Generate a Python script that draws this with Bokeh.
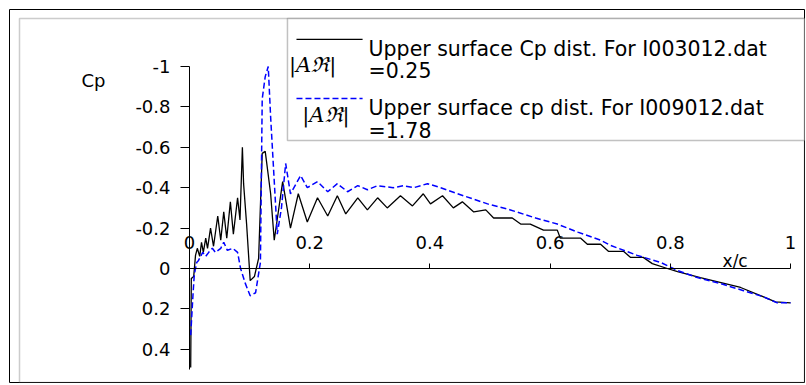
from bokeh.plotting import figure
from bokeh.models import Range1d, LinearAxis, FixedTicker, BoxAnnotation
from bokeh.core.properties import value
from bokeh.embed import file_html
from bokeh.resources import INLINE

# ---- data ----
x_black = [0.002, 0.003, 0.007, 0.010, 0.013, 0.017, 0.020, 0.023, 0.027, 0.030,
           0.035, 0.040, 0.047, 0.052, 0.057, 0.062, 0.068, 0.073, 0.080, 0.084,
           0.088, 0.090, 0.095, 0.101, 0.108, 0.115, 0.121, 0.126, 0.135, 0.141,
           0.155, 0.168, 0.181, 0.196, 0.213, 0.230, 0.246, 0.260, 0.280, 0.296,
           0.313, 0.329, 0.351, 0.371, 0.389, 0.401, 0.421, 0.439, 0.454, 0.473,
           0.493, 0.506, 0.537, 0.551, 0.567, 0.589, 0.612, 0.617, 0.651, 0.662,
           0.684, 0.697, 0.722, 0.734, 0.755, 0.770, 0.795, 0.812, 0.850, 0.917,
           0.950, 0.975, 1.000]
cp_black = [0.49, 0.05, 0.04, -0.065, -0.10, -0.06, -0.13, -0.08, -0.15, -0.10,
            -0.20, -0.11, -0.26, -0.14, -0.28, -0.15, -0.33, -0.17, -0.35, -0.24,
            -0.60, -0.42, -0.22, 0.06, 0.04, -0.05, -0.57, -0.58, -0.37, -0.14,
            -0.43, -0.20, -0.37, -0.23, -0.35, -0.26, -0.36, -0.27, -0.35, -0.29,
            -0.35, -0.30, -0.36, -0.31, -0.37, -0.32, -0.36, -0.30, -0.33, -0.28,
            -0.29, -0.25, -0.25, -0.22, -0.22, -0.19, -0.19, -0.15, -0.15, -0.12,
            -0.12, -0.085, -0.085, -0.055, -0.055, -0.024, 0.0, 0.015, 0.045, 0.094,
            0.134, 0.165, 0.17]

x_blue = [0.002, 0.006, 0.008, 0.012, 0.015, 0.022, 0.027, 0.032, 0.038, 0.043,
          0.052, 0.057, 0.063, 0.072, 0.080, 0.085, 0.093, 0.101, 0.110, 0.115,
          0.118, 0.121, 0.126, 0.131, 0.135, 0.146, 0.153, 0.160, 0.168, 0.185,
          0.196, 0.213, 0.230, 0.246, 0.263, 0.280, 0.296, 0.313, 0.339, 0.356,
          0.373, 0.396, 0.418, 0.456, 0.496, 0.534, 0.576, 0.612, 0.646, 0.684,
          0.700, 0.745, 0.784, 0.812, 0.845, 0.884, 0.922, 0.955, 0.978, 1.000]
cp_blue = [0.33, 0.12, 0.03, -0.03, -0.04, -0.08, -0.06, -0.08, -0.10, -0.08,
           -0.10, -0.13, -0.09, -0.10, -0.08, 0.00, 0.075, 0.135, 0.12, 0.025,
           -0.03, -0.84, -0.95, -1.00, -0.75, -0.17, -0.30, -0.52, -0.37, -0.46,
           -0.40, -0.43, -0.38, -0.42, -0.38, -0.41, -0.39, -0.41, -0.40, -0.41,
           -0.40, -0.42, -0.40, -0.36, -0.32, -0.29, -0.25, -0.22, -0.18, -0.14,
           -0.115, -0.065, -0.03, 0.01, 0.045, 0.075, 0.11, 0.14, 0.17, 0.17]

x_ticks = [0, 0.2, 0.4, 0.6, 0.8, 1]
x_tick_labels = ["0", "0.2", "0.4", "0.6", "0.8", "1"]
y_ticks = [-1, -0.8, -0.6, -0.4, -0.2, 0, 0.2, 0.4]
y_tick_labels = ["-1", "-0.8", "-0.6", "-0.4", "-0.2", "0", "0.2", "0.4"]

legend_lines = ["Upper surface Cp dist. For I003012.dat", "=0.25",
                "Upper surface cp dist. For I009012.dat", "=1.78"]
ar_symbol = "|Aℜ|"

FONT = "DejaVu Sans"

# frame = outer chart border (canvas 9..805 x 9..383)
p = figure(width=805, height=383, output_backend="svg", toolbar_location=None,
           x_axis_type=None, y_axis_type=None, title=None,
           x_range=Range1d(-0.29950, 1.02496), y_range=Range1d(0.56931, -1.28218),
           min_border_left=9, min_border_right=0, min_border_top=9, min_border_bottom=0)
p.outline_line_color = "black"
p.outline_line_width = 1
p.background_fill_color = "white"
p.border_fill_color = "white"

# inner plot-area border
p.add_layout(BoxAnnotation(left=-0.28286, right=1.02329, top=-1.23762, bottom=0.56436,
                           fill_alpha=0, line_color="#555555", line_width=1.5,
                           level="underlay"))

# axes crossing at the origin
xaxis = LinearAxis(fixed_location=0, bounds=(0, 1), ticker=FixedTicker(ticks=x_ticks),
                   major_label_overrides={t: l for t, l in zip(x_ticks, x_tick_labels)})
xaxis.major_tick_in = 0
xaxis.major_tick_out = 5
xaxis.minor_tick_in = 0
xaxis.minor_tick_out = 0
xaxis.major_label_standoff = 14
xaxis.axis_line_color = "black"
xaxis.major_tick_line_color = "black"
xaxis.major_label_text_font = FONT
xaxis.major_label_text_font_size = "18px"
xaxis.major_label_text_color = "black"
p.add_layout(xaxis, "above")

yaxis = LinearAxis(fixed_location=0, bounds=(-1, 0.5), ticker=FixedTicker(ticks=y_ticks),
                   major_label_overrides={t: l for t, l in zip(y_ticks, y_tick_labels)})
yaxis.major_tick_in = 0
yaxis.major_tick_out = 9
yaxis.minor_tick_in = 0
yaxis.minor_tick_out = 0
yaxis.major_label_standoff = 10
yaxis.axis_line_color = "black"
yaxis.major_tick_line_color = "black"
yaxis.major_label_text_font = FONT
yaxis.major_label_text_font_size = "18px"
yaxis.major_label_text_color = "black"
p.add_layout(yaxis, "left")

# curves
p.line(x_black, cp_black, line_color="black", line_width=1.3)
p.line(x_blue, cp_blue, line_color="#0000FF", line_width=1.5, line_dash="6 3")

# axis titles
p.text(x=[-0.1797], y=[-0.931], text=["Cp"], text_font=value(FONT),
       text_font_size=value("18px"), text_baseline="alphabetic", text_align="left",
       text_color="black")
p.text(x=[0.887], y=[-0.0396], text=["x/c"], text_font=value(FONT),
       text_font_size=value("17px"), text_baseline="alphabetic", text_align="left",
       text_color="black")

# legend box
p.add_layout(BoxAnnotation(left=0.163, right=1.02329, top=-1.23762, bottom=-0.634,
                           fill_color="white", fill_alpha=1.0,
                           line_color="#333333", line_width=1.5, level="underlay"))
p.line([0.178, 0.288], [-1.134, -1.134], line_color="black", line_width=1.3)
p.line([0.178, 0.288], [-0.842, -0.842], line_color="#0000FF", line_width=1.5, line_dash="6 3")
p.text(x=[0.298, 0.298, 0.298, 0.298], y=[-1.089, -0.980, -0.797, -0.683], text=legend_lines,
       text_font=value(FONT), text_font_size=value("20.5px"), text_baseline="alphabetic",
       text_align="left", text_color="black")
p.text(x=[0.205, 0.227], y=[-1.005, -0.758], text=[ar_symbol, ar_symbol],
       text_font=value("DejaVu Serif"), text_font_style="italic", text_font_size=value("21px"),
       text_baseline="middle", text_align="center", text_color="black")

open("out.html", "w").write(file_html(p, INLINE))
